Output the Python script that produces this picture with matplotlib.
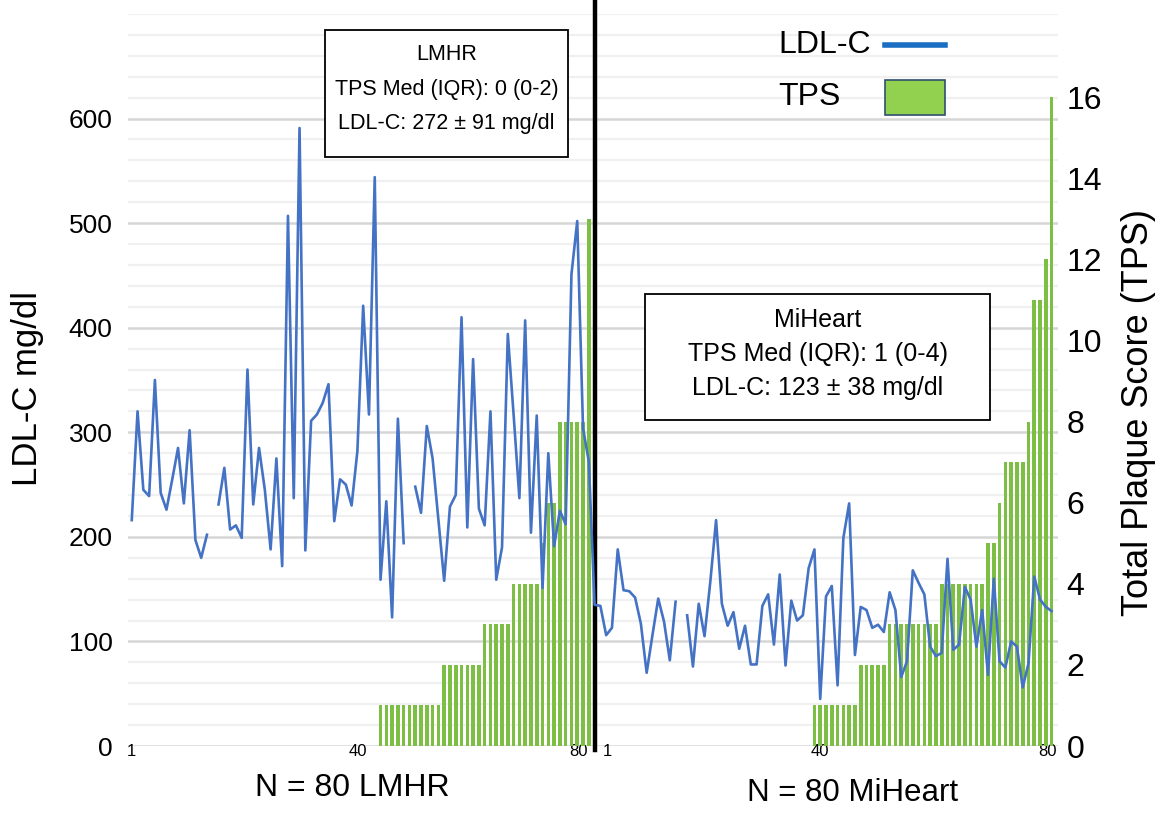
import numpy as np
import matplotlib
matplotlib.use('Agg')
import matplotlib.pyplot as plt
from matplotlib.patches import Rectangle
from matplotlib.lines import Line2D

plt.rcParams['font.family'] = ['Liberation Sans', 'DejaVu Sans']

# LDL-C per patient (mg/dl), None = missing value
lmhr_ldl = [216, 320, 245, 239, 350, 242, 226, 255, 285, 232,
            302, 197, 180, 202, None, 231, 266, 207, 211, 199,
            360, 231, 285, 245, 188, 275, 172, 507, 237, 591,
            187, 311, 317, 328, 346, 215, 255, 250, 230, 282,
            421, 317, 544, 159, 234, 123, 313, 194, None, 248,
            223, 306, 275, 216, 158, 229, 240, 410, 209, 370,
            227, 211, 320, 159, 190, 394, 317, 237, 407, 204,
            316, 151, 280, 191, 225, 212, 451, 502, 304, 272]
miheart_ldl = [135, 134, 106, 113, 188, 149, 148, 142, 117, 70,
               106, 141, 119, 82, 138, None, 125, 76, 136, 105,
               157, 216, 136, 115, 128, 93, 115, 78, 78, 134,
               145, 97, 164, 77, 139, 120, 125, 170, 188, 45,
               143, 153, 58, 199, 232, 87, 133, 130, 113, 116,
               109, 147, 130, 66, 81, 168, 156, 145, 95, 86,
               89, 179, 92, 97, 152, 140, 95, 130, 68, 160,
               81, 75, 100, 95, 56, 79, 162, 140, 133, 129]

# total plaque score per patient
lmhr_tps = [0, 0, 0, 0, 0, 0, 0, 0, 0, 0,
            0, 0, 0, 0, 0, 0, 0, 0, 0, 0,
            0, 0, 0, 0, 0, 0, 0, 0, 0, 0,
            0, 0, 0, 0, 0, 0, 0, 0, 0, 0,
            0, 0, 0, 1, 1, 1, 1, 1, 1, 1,
            1, 1, 1, 1, 2, 2, 2, 2, 2, 2,
            2, 3, 3, 3, 3, 3, 4, 4, 4, 4,
            4, 5, 6, 6, 8, 8, 8, 8, 8, 13]
miheart_tps = [0, 0, 0, 0, 0, 0, 0, 0, 0, 0,
               0, 0, 0, 0, 0, 0, 0, 0, 0, 0,
               0, 0, 0, 0, 0, 0, 0, 0, 0, 0,
               0, 0, 0, 0, 0, 0, 0, 0, 1, 1,
               1, 1, 1, 1, 1, 1, 2, 2, 2, 2,
               2, 3, 3, 3, 3, 3, 3, 3, 3, 3,
               4, 4, 4, 4, 4, 4, 4, 4, 5, 5,
               6, 7, 7, 7, 7, 8, 11, 11, 12, 16]

ldl_ticks = [0, 100, 200, 300, 400, 500, 600]
tps_ticks = [0, 2, 4, 6, 8, 10, 12, 14, 16]
group_ticks = [1, 40, 80]

W, H = 1168, 814
blue = '#4472c4'
green = '#7dbf45'

ldl = np.array([np.nan if v is None else v for v in lmhr_ldl + miheart_ldl], dtype=float)
tps = np.array(lmhr_tps + miheart_tps, dtype=float)
x = np.arange(1, len(ldl) + 1)
n_left = len(lmhr_ldl)

fig = plt.figure(figsize=(W / 100, H / 100), dpi=100)
ax = fig.add_axes([128 / W, 1 - 746 / H, 930 / W, 732 / H])
ax2 = ax.twinx()

# grid: minor every 20, major every 100
ax.set_yticks(ldl_ticks)
ax.set_yticks(np.arange(0, 701, 20), minor=True)
ax.grid(axis='y', which='minor', color='#f0f0f0', lw=1.6)
ax.grid(axis='y', which='major', color='#d6d6d6', lw=1.8)
ax.set_axisbelow(True)
ax.set_xticks([])
ax.tick_params(axis='y', which='both', length=0, labelsize=19, pad=11)
ax2.set_yticks(tps_ticks)
ax2.tick_params(axis='y', length=0, labelsize=23, pad=6)
for a in (ax, ax2):
    for s in a.spines.values():
        s.set_visible(False)

ax2.bar(x, tps, width=0.62, color=green, zorder=2)
ax2.plot(x, ldl, color=blue, lw=1.9, transform=ax.transData, zorder=3)
ax.set_ylim(0, 700)
ax2.set_ylim(0, 18.05)
ax.set_xlim(0.35, 161.1)

# divider between the two cohorts
ax.axvline(n_left + 1.1, ymin=-0.005, ymax=1.02, color='black', lw=3.2, clip_on=False, zorder=5)

ax.set_ylabel('LDL-C mg/dl', fontsize=25)
ax.yaxis.set_label_coords((44 - 128) / 930, (746 - 388) / 732)
ax2.set_ylabel('Total Plaque Score (TPS)', fontsize=26)
ax2.yaxis.set_label_coords((1121 - 128) / 930, (746 - 412) / 732)

# group ticks under each cohort
for offset in (0, n_left):
    for t in group_ticks:
        dx = 0
        if offset == 0 and t == 80:
            dx = -1.8
        if offset == n_left and t == 1:
            dx = 2.2
        if offset == n_left and t == 80:
            dx = -0.8
        ax.text(offset + t + dx, -5, str(t), ha='center', va='center', fontsize=12)

fig.text(352 / W, 1 - 788 / H, 'N = 80 LMHR', ha='center', va='center', fontsize=23)
fig.text(853 / W, 1 - 793 / H, 'N = 80 MiHeart', ha='center', va='center', fontsize=22.5)


# annotation boxes
def box(x0, y0, x1, y1, lines, ys, fs):
    fig.add_artist(Rectangle((x0 / W, 1 - y1 / H), (x1 - x0) / W, (y1 - y0) / H,
                             transform=fig.transFigure, facecolor='white',
                             edgecolor='black', lw=1.3, zorder=6))
    cx = (x0 + x1) / 2
    for s, yy in zip(lines, ys):
        fig.text(cx / W, 1 - yy / H, s, ha='center', va='center', fontsize=fs, zorder=7)


box(325, 30, 568, 157, ['LMHR', 'TPS Med (IQR): 0 (0-2)', 'LDL-C: 272 \u00b1 91 mg/dl'],
    [54, 89, 124], 15.5)
box(645, 294, 990, 420, ['MiHeart', 'TPS Med (IQR): 1 (0-4)', 'LDL-C: 123 \u00b1 38 mg/dl'],
    [320, 354, 388], 18)

# legend
fig.text(778 / W, 1 - 45 / H, 'LDL-C', ha='left', va='center', fontsize=23)
fig.text(778 / W, 1 - 97 / H, 'TPS', ha='left', va='center', fontsize=23)
fig.add_artist(Line2D([885 / W, 945 / W], [1 - 45 / H, 1 - 45 / H], transform=fig.transFigure,
                      color='#1b6ec2', lw=4))
fig.add_artist(Rectangle((885 / W, 1 - 115 / H), 60 / W, 35 / H, transform=fig.transFigure,
                         facecolor='#92d050', edgecolor='#2f4f6f', lw=1.2))

fig.savefig('out.png', dpi=100)
